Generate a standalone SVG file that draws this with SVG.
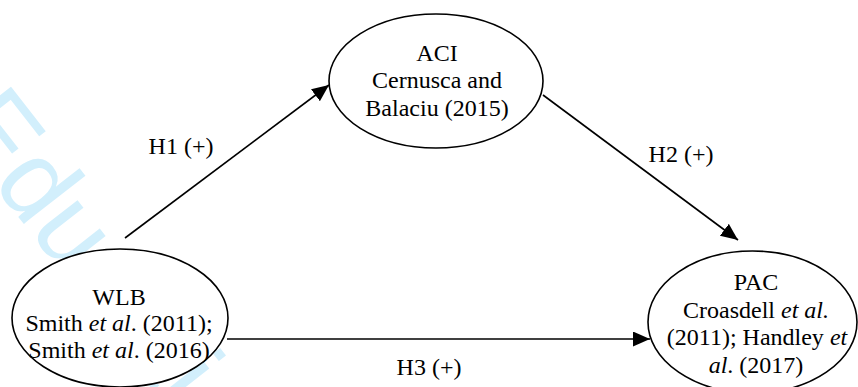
<svg xmlns="http://www.w3.org/2000/svg" width="858" height="387" viewBox="0 0 858 387">
  <style>
    .bg { fill: #ffffff; }
    .wm { font-family: "Liberation Sans", Arial, sans-serif; font-size: 108px; fill: #d2effc; }
    .node { fill: #ffffff; stroke: #000000; stroke-width: 1.6; }
    .lbl { font-family: "Liberation Serif", "Times New Roman", serif; font-size: 24px; fill: #000000; text-anchor: middle; }
    .edge { fill: none; stroke: #000000; stroke-width: 1.6; }
    .it { font-style: italic; }
  </style>
  <defs>
    <marker id="arrow" markerUnits="userSpaceOnUse" markerWidth="18" markerHeight="16" refX="17" refY="7.5" orient="auto">
      <path d="M0,0 L17,7.5 L0,15 Z" fill="#000000"/>
    </marker>
  </defs>
  <rect class="bg" x="0" y="0" width="858" height="387"/>
  <text class="wm" transform="translate(-53,125.6) rotate(52)">Education</text>

  <g id="connectors">
    <line class="edge" x1="125" y1="238" x2="329" y2="85" marker-end="url(#arrow)"/>
    <line class="edge" x1="543" y1="95" x2="738" y2="240" marker-end="url(#arrow)"/>
    <line class="edge" x1="227" y1="339" x2="650" y2="339" marker-end="url(#arrow)"/>
    <text class="lbl" x="181" y="154">H1 (+)</text>
    <text class="lbl" x="681" y="162">H2 (+)</text>
    <text class="lbl" x="429" y="375">H3 (+)</text>
  </g>

  <g id="ACI">
    <ellipse class="node" cx="436" cy="81" rx="107" ry="67"/>
    <text class="lbl" x="437" y="61">ACI</text>
    <text class="lbl" x="437" y="88">Cernusca and</text>
    <text class="lbl" x="437" y="115.5">Balaciu (2015)</text>
  </g>

  <g id="WLB">
    <ellipse class="node" cx="120" cy="318" rx="108" ry="69"/>
    <text class="lbl" x="119" y="305">WLB</text>
    <text class="lbl" x="119" y="331">Smith <tspan class="it">et al</tspan>. (2011);</text>
    <text class="lbl" x="119" y="358">Smith <tspan class="it">et al</tspan>. (2016)</text>
  </g>

  <g id="PAC">
    <ellipse class="node" cx="752.5" cy="322" rx="104.5" ry="71"/>
    <text class="lbl" x="756" y="290">PAC</text>
    <text class="lbl" x="756" y="318">Croasdell <tspan class="it">et al.</tspan></text>
    <text class="lbl" x="757" y="345">(2011); Handley <tspan class="it">et</tspan></text>
    <text class="lbl" x="756" y="372.5"><tspan class="it">al</tspan>. (2017)</text>
  </g>
</svg>
